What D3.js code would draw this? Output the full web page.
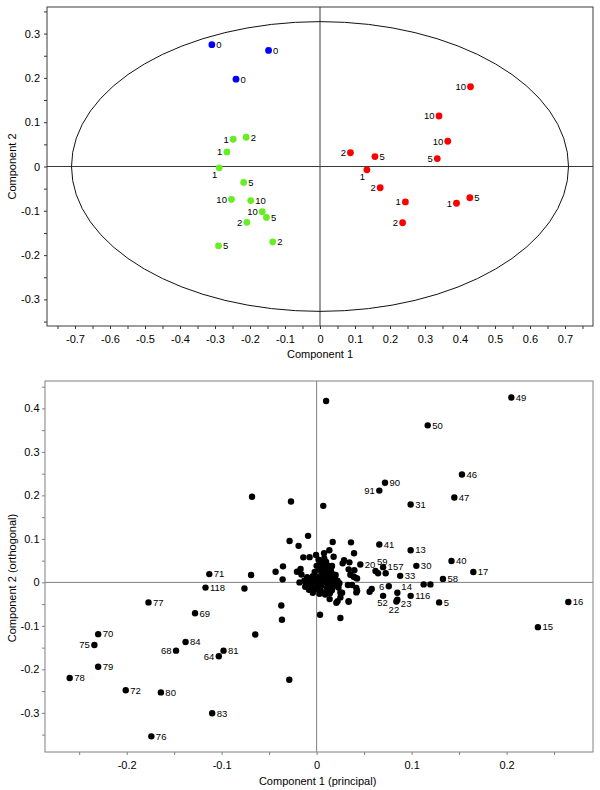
<!DOCTYPE html>
<html><head><meta charset="utf-8">
<script src="https://cdn.jsdelivr.net/npm/d3@7/dist/d3.min.js"></script>
<style>body{margin:0;background:#fff} svg text{font-family:"Liberation Sans",Arial,sans-serif;fill:#000}</style>
</head><body><svg id="c" width="600" height="790"></svg>
<script>
// ---------- DATA ----------
// Top chart (scores): [component1, component2, label]
const topBlue = [[-0.309,0.275,"0"],[-0.147,0.262,"0"],[-0.240,0.197,"0"]];
const topGreen = [[-0.248,0.0615,"1"],[-0.211,0.066,"2"],[-0.266,0.033,"1"],[-0.288,-0.003,"1"],[-0.218,-0.036,"5"],
  [-0.253,-0.074,"10"],[-0.198,-0.077,"10"],[-0.165,-0.102,"10"],[-0.153,-0.115,"5"],[-0.209,-0.126,"2"],
  [-0.135,-0.170,"2"],[-0.290,-0.179,"5"]];
const topRed = [[0.430,0.180,"10"],[0.340,0.114,"10"],[0.365,0.057,"10"],[0.335,0.018,"5"],[0.087,0.031,"2"],
  [0.157,0.0225,"5"],[0.134,-0.0075,"1"],[0.172,-0.048,"2"],[0.244,-0.080,"1"],[0.390,-0.083,"1"],
  [0.428,-0.0705,"5"],[0.236,-0.127,"2"]];
const ellipseRadii = [0.71, 0.327];
const topXLabels = ["-0.7","-0.6","-0.5","-0.4","-0.3","-0.2","-0.1","0","0.1","0.2","0.3","0.4","0.5","0.6","0.7"];
const topYLabels = ["-0.3","-0.2","-0.1","0","0.1","0.2","0.3"];
const topXDomain = [-0.78, 0.78];
const topYDomain = [-0.36, 0.36];

// Bottom chart (loadings): [component1, component2 (orthogonal), label]
const botLabeled = [
  [0.205,0.425,"49"],[0.117,0.361,"50"],[0.153,0.248,"46"],[0.072,0.229,"90"],[0.066,0.211,"91"],
  [0.145,0.195,"47"],[0.099,0.179,"31"],[0.066,0.087,"41"],[0.099,0.074,"13"],[0.142,0.049,"40"],
  [0.105,0.038,"30"],[0.165,0.024,"17"],[0.046,0.041,"20"],[0.062,0.026,"59"],[0.070,0.035,"157"],
  [0.088,0.015,"33"],[0.133,0.008,"58"],[0.076,-0.009,"6"],[0.085,-0.024,"14"],[0.099,-0.031,"116"],
  [0.070,-0.031,"52"],[0.085,-0.040,"23"],[0.084,-0.044,"22"],[0.129,-0.046,"5"],[0.265,-0.045,"16"],
  [0.233,-0.103,"15"],[-0.113,0.019,"71"],[-0.117,-0.012,"118"],[-0.177,-0.046,"77"],[-0.128,-0.071,"69"],
  [-0.230,-0.119,"70"],[-0.234,-0.144,"75"],[-0.138,-0.137,"84"],[-0.148,-0.157,"68"],[-0.098,-0.157,"81"],
  [-0.103,-0.170,"64"],[-0.230,-0.194,"79"],[-0.260,-0.220,"78"],[-0.201,-0.248,"72"],[-0.164,-0.253,"80"],
  [-0.110,-0.301,"83"],[-0.174,-0.354,"76"]];
const botUnlabeled = [
  [0.010,0.417],[0.007,0.176],[-0.068,0.197],[-0.027,0.186],[-0.0285,0.095],[-0.009,0.107],[-0.019,0.084],
  [-0.014,0.0575],[-0.0074,0.058],[-0.0006,0.063],[0.0078,0.067],[0.0134,0.074],[0.0169,0.093],[0.0362,0.092],
  [0.0394,0.067],[0.0179,0.059],[0.0289,0.051],[0.0345,0.046],[0.0397,0.028],[0.0355,0.0175],[0.0408,0.011],
  [0.0647,0.021],[0.0727,0.021],[0.0162,0.0375],[-0.069,0.017],[-0.076,-0.014],[-0.0646,-0.120],[-0.0288,-0.224],
  [-0.0372,-0.053],[-0.0365,-0.086],[0.0036,-0.0745],[0.025,-0.082],[-0.0432,0.0244],[-0.0354,0.0368],
  [-0.0358,0.0069],[-0.0207,0.0244],[-0.0169,0.0306],[0.1127,-0.0046],[0.1198,-0.0046],[0.058,-0.015],
  [0.0558,-0.0216],[0.0337,-0.043],[0.0221,-0.043],[0.0137,-0.0384],[0.025,-0.023],[0.0418,-0.023],
  [0.0418,-0.013],[0.033,-0.006],[0.0274,0.0437],[0.0337,0.030],[0.039,0.013],[0.0426,0.009],[0.0373,-0.006],
  [0.0426,-0.019],[0.0337,-0.0446],[0.025,-0.0345],[0.0208,-0.047],[0.0268,-0.024],[0.0215,-0.0023],
  [0.002,0.052],[0.008,0.055],[0.004,0.045],[0.010,0.047],[0.000,0.038],[0.006,0.040],[0.012,0.038],
  [0.003,0.030],[0.009,0.031],[0.015,0.028],[-0.002,0.024],[0.005,0.022],[0.011,0.020],[0.017,0.019],
  [-0.010,0.012],[-0.004,0.014],[0.001,0.012],[0.007,0.013],[0.013,0.011],[0.019,0.010],
  [-0.013,0.004],[-0.007,0.005],[-0.002,0.004],[0.004,0.006],[0.010,0.004],[0.016,0.003],[0.022,0.004],
  [-0.011,-0.003],[-0.005,-0.002],[0.001,-0.003],[0.006,-0.001],[0.012,-0.004],[0.018,-0.005],[0.024,-0.002],
  [-0.012,-0.010],[-0.006,-0.009],[0.000,-0.011],[0.005,-0.008],[0.011,-0.012],[0.017,-0.011],
  [-0.008,-0.017],[-0.002,-0.016],[0.004,-0.018],[0.010,-0.020],[0.016,-0.018],
  [-0.004,-0.024],[0.003,-0.026],[0.009,-0.028],[0.014,-0.025],
  [-0.016,0.018],[-0.018,0.000],[0.020,0.017],[0.023,-0.012]];
const botXLabels = ["-0.2","-0.1","0","0.1","0.2"];
const botYLabels = ["-0.3","-0.2","-0.1","0","0.1","0.2","0.3","0.4"];
const botXDomain = [-0.286, 0.291];
const botYDomain = [-0.39, 0.463];

// ---------- DRAWING ----------
const svg = d3.select("#c");
const topBox = {l:47, t:7, r:593, b:326};
const botBox = {l:45, t:381, r:593, b:752};

const xT = d3.scaleLinear(topXDomain, [topBox.l, topBox.r]);
const yT = d3.scaleLinear(topYDomain, [topBox.b, topBox.t]);
const xB = d3.scaleLinear(botXDomain, [botBox.l, botBox.r]);
const yB = d3.scaleLinear(botYDomain, [botBox.b, botBox.t]);

function fmtFrom(labels){
  const vals = labels.map(Number);
  return d => { const i = vals.findIndex(v => Math.abs(v - d) < 1e-9); return i >= 0 ? labels[i] : ""; };
}
function allTicks(scale){
  const [a,b] = scale.domain();
  const out = [];
  for (let k = Math.ceil(a/0.05 - 1e-9); k <= Math.floor(b/0.05 + 1e-9); k++) out.push(+(k*0.05).toFixed(2));
  return out;
}

function frame(box, x, y, color){
  const g = svg.append("g");
  g.append("line").attr("x1", x(0)).attr("x2", x(0)).attr("y1", box.t).attr("y2", box.b)
    .attr("stroke", color).attr("stroke-width", 1);
  g.append("line").attr("x1", box.l).attr("x2", box.r).attr("y1", y(0)).attr("y2", y(0))
    .attr("stroke", color).attr("stroke-width", 1);
  g.append("rect").attr("x", box.l).attr("y", box.t).attr("width", box.r - box.l).attr("height", box.b - box.t)
    .attr("fill", "none").attr("stroke", color).attr("stroke-width", 1);
}
function axes(box, x, y, xLabels, yLabels, color, yPad){
  const gx = svg.append("g").attr("transform", `translate(0,${box.b})`)
    .call(d3.axisBottom(x).tickValues(allTicks(x)).tickFormat(fmtFrom(xLabels)).tickSize(3).tickPadding(6));
  gx.select(".domain").remove();
  gx.selectAll("line").attr("stroke", color);
  gx.selectAll("text").attr("font-size", 11).attr("font-family", "Liberation Sans, Arial, sans-serif");
  const gy = svg.append("g").attr("transform", `translate(${box.l},0)`)
    .call(d3.axisLeft(y).tickValues(allTicks(y)).tickFormat(fmtFrom(yLabels)).tickSize(3).tickPadding(yPad));
  gy.select(".domain").remove();
  gy.selectAll("line").attr("stroke", color);
  gy.selectAll("text").attr("font-size", 11).attr("font-family", "Liberation Sans, Arial, sans-serif");
}

function labelPos(side, px, py){
  switch(side){
    case "l":  return {x:px-4.5, y:py+3.3, a:"end"};
    case "bl": return {x:px-4.5, y:py+10.5, a:"middle"};
    case "tr": return {x:px+4, y:py-3, a:"start"};
    case "b":  return {x:px-0.5, y:py+10.5, a:"middle"};
    case "bb": return {x:px-2.5, y:py+11.5, a:"middle"};
    case "br": return {x:px+3.5, y:py+7.5, a:"start"};
    case "t59":return {x:px+1.5, y:py-6.5, a:"start"};
    default:   return {x:px+4.5, y:py+3.3, a:"start"};
  }
}

function points(data, x, y, color, r, sides){
  const g = svg.append("g");
  g.selectAll("circle").data(data).join("circle")
    .attr("cx", d => x(d[0])).attr("cy", d => y(d[1])).attr("r", r).attr("fill", color);
  g.selectAll("text").data(data.filter(d => d[2])).join("text")
    .each(function(d, i){
      const p = labelPos(typeof sides === "function" ? sides(d) : sides[i], x(d[0]), y(d[1]));
      d3.select(this).attr("x", p.x).attr("y", p.y).attr("text-anchor", p.a);
    })
    .attr("font-size", 9.5).text(d => d[2]);
}

// ----- Top chart -----
frame(topBox, xT, yT, "#3a3a3a");
svg.append("ellipse").attr("cx", xT(0)).attr("cy", yT(0))
  .attr("rx", xT(ellipseRadii[0]) - xT(0)).attr("ry", yT(0) - yT(ellipseRadii[1]))
  .attr("fill", "none").attr("stroke", "#111").attr("stroke-width", 1);
axes(topBox, xT, yT, topXLabels, topYLabels, "#333", 4);
points(topBlue, xT, yT, "#0000ff", 3.4, ["r","r","r"]);
points(topGreen, xT, yT, "#66ee22", 3.4, ["l","r","l","bl","r","l","r","l","r","l","r","r"]);
points(topRed, xT, yT, "#ff0000", 3.4, ["l","l","l","l","l","r","bl","l","l","l","r","l"]);
svg.append("text").attr("x", xT(0)).attr("y", 357.5).attr("text-anchor", "middle").attr("font-size", 11).text("Component 1");
svg.append("text").attr("transform", `translate(15.5,${yT(0)}) rotate(-90)`).attr("text-anchor", "middle")
  .attr("font-size", 11).text("Component 2");

// ----- Bottom chart -----
frame(botBox, xB, yB, "#808080");
axes(botBox, xB, yB, botXLabels, botYLabels, "#808080", 2.5);
const botSide = {"91":"l","75":"l","68":"l","64":"l","6":"l","14":"tr","52":"b","23":"br","22":"bb","59":"t59"};
points(botUnlabeled, xB, yB, "#000", 3.2, []);
points(botLabeled, xB, yB, "#000", 3.2, d => botSide[d[2]] || "r");
svg.append("text").attr("x", xB(0) + 1).attr("y", 784.5).attr("text-anchor", "middle").attr("font-size", 11)
  .text("Component 1 (principal)");
svg.append("text").attr("transform", "translate(15.5,578) rotate(-90)").attr("text-anchor", "middle")
  .attr("font-size", 11).text("Component 2 (orthogonal)");
</script></body></html>
